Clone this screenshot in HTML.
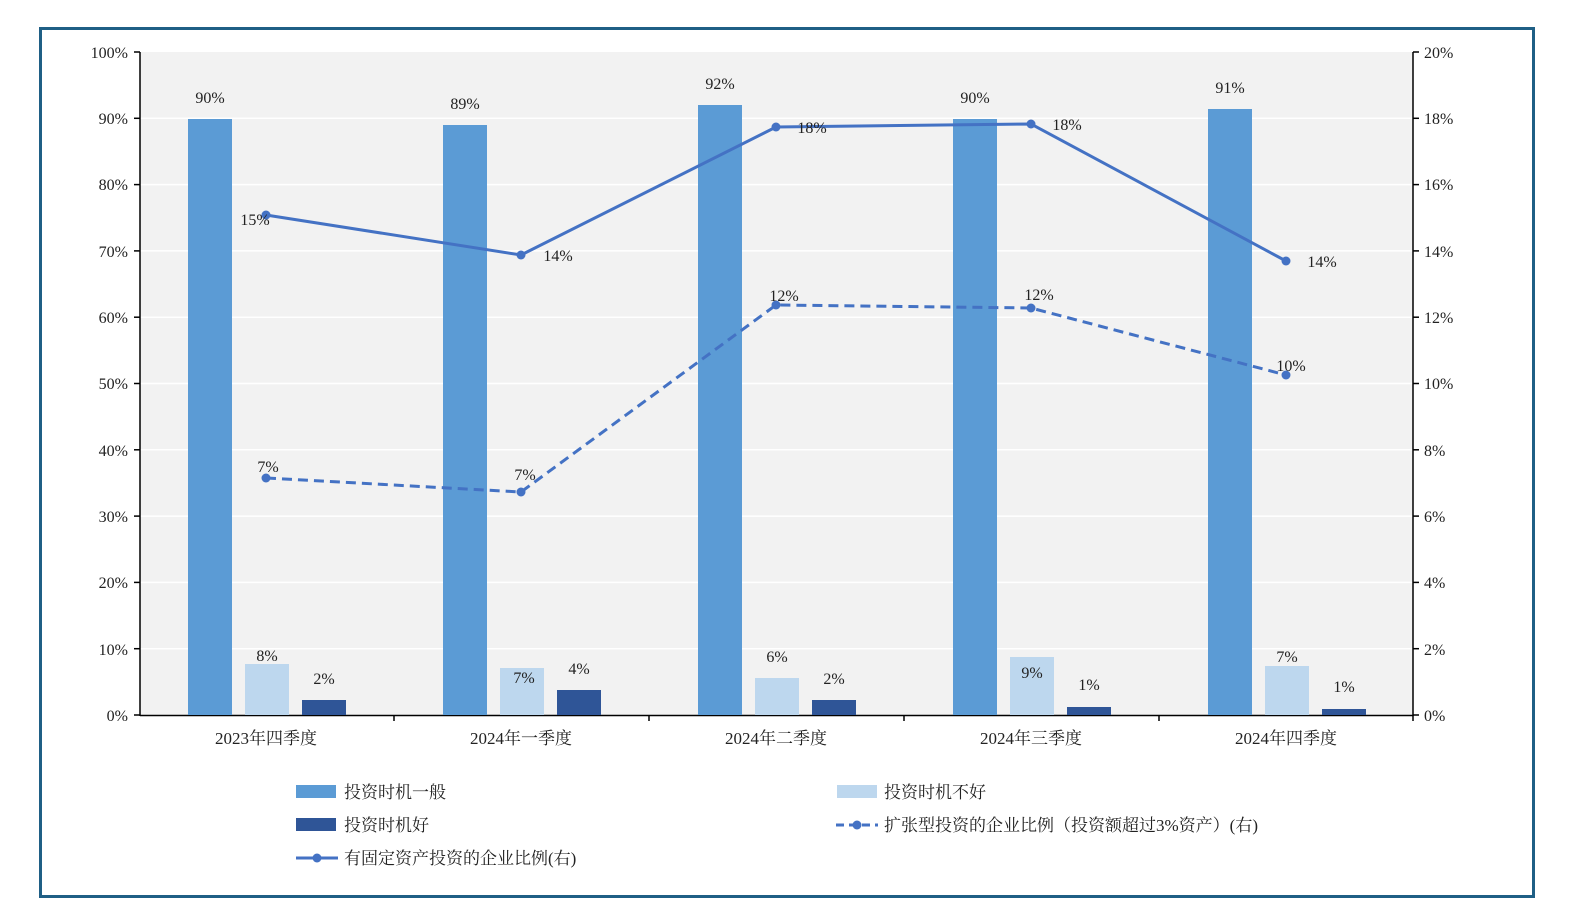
<!DOCTYPE html>
<html><head><meta charset="utf-8"><style>
html,body{margin:0;padding:0;background:#fff;overflow:hidden;width:1576px;height:920px;}
svg{display:block;font-family:"Liberation Serif","Noto Serif CJK SC",serif;}
</style></head><body>
<svg width="1576" height="920" viewBox="0 0 1576 920" xmlns="http://www.w3.org/2000/svg">
<rect x="0" y="0" width="1576" height="920" fill="#fff"/>
<rect x="40.5" y="28.5" width="1493" height="868" fill="#fff" stroke="#1f5f85" stroke-width="3"/>
<rect x="140" y="52" width="1273" height="663" fill="#f2f2f2"/>
<g stroke="#fff" stroke-width="1.5">
<line x1="140" x2="1413" y1="118.3" y2="118.3"/><line x1="140" x2="1413" y1="184.6" y2="184.6"/>
<line x1="140" x2="1413" y1="250.9" y2="250.9"/><line x1="140" x2="1413" y1="317.2" y2="317.2"/>
<line x1="140" x2="1413" y1="383.5" y2="383.5"/><line x1="140" x2="1413" y1="449.8" y2="449.8"/>
<line x1="140" x2="1413" y1="516.1" y2="516.1"/><line x1="140" x2="1413" y1="582.4" y2="582.4"/>
<line x1="140" x2="1413" y1="648.7" y2="648.7"/>
</g>
<g stroke="#000" stroke-width="1.5">
<line x1="140" x2="140" y1="52" y2="716"/>
<line x1="1413" x2="1413" y1="52" y2="716"/>
<line x1="140" x2="1413" y1="715.5" y2="715.5"/>
<line x1="394" x2="394" y1="715" y2="721"/><line x1="649" x2="649" y1="715" y2="721"/>
<line x1="904" x2="904" y1="715" y2="721"/><line x1="1159" x2="1159" y1="715" y2="721"/>
<line x1="1413" x2="1413" y1="715" y2="721"/>
<g>
<line x1="134" x2="140" y1="52" y2="52"/><line x1="134" x2="140" y1="118.3" y2="118.3"/><line x1="134" x2="140" y1="184.6" y2="184.6"/><line x1="134" x2="140" y1="250.9" y2="250.9"/><line x1="134" x2="140" y1="317.2" y2="317.2"/><line x1="134" x2="140" y1="383.5" y2="383.5"/><line x1="134" x2="140" y1="449.8" y2="449.8"/><line x1="134" x2="140" y1="516.1" y2="516.1"/><line x1="134" x2="140" y1="582.4" y2="582.4"/><line x1="134" x2="140" y1="648.7" y2="648.7"/><line x1="134" x2="140" y1="715" y2="715"/>
<line x1="1413" x2="1419" y1="52" y2="52"/><line x1="1413" x2="1419" y1="118.3" y2="118.3"/><line x1="1413" x2="1419" y1="184.6" y2="184.6"/><line x1="1413" x2="1419" y1="250.9" y2="250.9"/><line x1="1413" x2="1419" y1="317.2" y2="317.2"/><line x1="1413" x2="1419" y1="383.5" y2="383.5"/><line x1="1413" x2="1419" y1="449.8" y2="449.8"/><line x1="1413" x2="1419" y1="516.1" y2="516.1"/><line x1="1413" x2="1419" y1="582.4" y2="582.4"/><line x1="1413" x2="1419" y1="648.7" y2="648.7"/><line x1="1413" x2="1419" y1="715" y2="715"/>
</g></g>
<g font-size="16" fill="#222" text-anchor="end">
<text x="128" y="58">100%</text><text x="128" y="124">90%</text><text x="128" y="190">80%</text><text x="128" y="257">70%</text><text x="128" y="323">60%</text><text x="128" y="389">50%</text><text x="128" y="456">40%</text><text x="128" y="522">30%</text><text x="128" y="588">20%</text><text x="128" y="655">10%</text><text x="128" y="721">0%</text>
</g>
<g font-size="16" fill="#222">
<text x="1424" y="58">20%</text><text x="1424" y="124">18%</text><text x="1424" y="190">16%</text><text x="1424" y="257">14%</text><text x="1424" y="323">12%</text><text x="1424" y="389">10%</text><text x="1424" y="456">8%</text><text x="1424" y="522">6%</text><text x="1424" y="588">4%</text><text x="1424" y="655">2%</text><text x="1424" y="721">0%</text>
</g>
<g font-size="17" fill="#222" text-anchor="middle">
<text x="266" y="744">2023年四季度</text><text x="521" y="744">2024年一季度</text><text x="776" y="744">2024年二季度</text><text x="1031" y="744">2024年三季度</text><text x="1286" y="744">2024年四季度</text>
</g>
<g fill="#5b9bd5">
<rect x="188" y="119" width="44" height="596"/><rect x="443" y="125" width="44" height="590"/><rect x="698" y="105" width="44" height="610"/><rect x="953" y="119" width="44" height="596"/><rect x="1208" y="109" width="44" height="606"/>
</g>
<g fill="#bdd7ee">
<rect x="245" y="664" width="44" height="51"/><rect x="500" y="668" width="44" height="47"/><rect x="755" y="678" width="44" height="37"/><rect x="1010" y="657" width="44" height="58"/><rect x="1265" y="666" width="44" height="49"/>
</g>
<g fill="#2f5597">
<rect x="302" y="700" width="44" height="15"/><rect x="557" y="690" width="44" height="25"/><rect x="812" y="700" width="44" height="15"/><rect x="1067" y="707" width="44" height="8"/><rect x="1322" y="709" width="44" height="6"/>
</g>
<g font-size="16" fill="#222" text-anchor="middle">
<text x="210" y="103">90%</text><text x="465" y="109">89%</text><text x="720" y="89">92%</text><text x="975" y="103">90%</text><text x="1230" y="93">91%</text>
<text x="267" y="661">8%</text><text x="524" y="683">7%</text><text x="777" y="662">6%</text><text x="1032" y="678">9%</text><text x="1287" y="662">7%</text>
<text x="324" y="684">2%</text><text x="579" y="674">4%</text><text x="834" y="684">2%</text><text x="1089" y="690">1%</text><text x="1344" y="692">1%</text>
</g>
<polyline points="266,215 521,255 776,127 1031,124 1286,261" fill="none" stroke="#4472c4" stroke-width="3"/>
<polyline points="266,478 521,492 776,305 1031,308 1286,375" fill="none" stroke="#4472c4" stroke-width="3" stroke-dasharray="10,6"/>
<g fill="#4472c4">
<circle cx="266" cy="215" r="4.5"/><circle cx="521" cy="255" r="4.5"/><circle cx="776" cy="127" r="4.5"/><circle cx="1031" cy="124" r="4.5"/><circle cx="1286" cy="261" r="4.5"/>
<circle cx="266" cy="478" r="4.5"/><circle cx="521" cy="492" r="4.5"/><circle cx="776" cy="305" r="4.5"/><circle cx="1031" cy="308" r="4.5"/><circle cx="1286" cy="375" r="4.5"/>
</g>
<g font-size="16" fill="#222" text-anchor="middle">
<text x="255" y="225">15%</text><text x="558" y="261">14%</text><text x="812" y="133">18%</text><text x="1067" y="130">18%</text><text x="1322" y="267">14%</text>
<text x="268" y="472">7%</text><text x="525" y="480">7%</text><text x="784" y="301">12%</text><text x="1039" y="300">12%</text><text x="1291" y="371">10%</text>
</g>
<g font-size="17" fill="#222">
<rect x="296" y="785" width="40" height="13" fill="#5b9bd5"/><text x="344" y="798">投资时机一般</text>
<rect x="837" y="785" width="40" height="13" fill="#bdd7ee"/><text x="884" y="798">投资时机不好</text>
<rect x="296" y="818" width="40" height="13" fill="#2f5597"/><text x="344" y="831">投资时机好</text>
<line x1="836" x2="878" y1="825" y2="825" stroke="#4472c4" stroke-width="3" stroke-dasharray="8,5"/><circle cx="857" cy="825" r="4.5" fill="#4472c4"/><text x="884" y="831">扩张型投资的企业比例（投资额超过3%资产）(右)</text>
<line x1="296" x2="338" y1="858" y2="858" stroke="#4472c4" stroke-width="3"/><circle cx="317" cy="858" r="4.5" fill="#4472c4"/><text x="344" y="864">有固定资产投资的企业比例(右)</text>
</g>
</svg>
</body></html>
